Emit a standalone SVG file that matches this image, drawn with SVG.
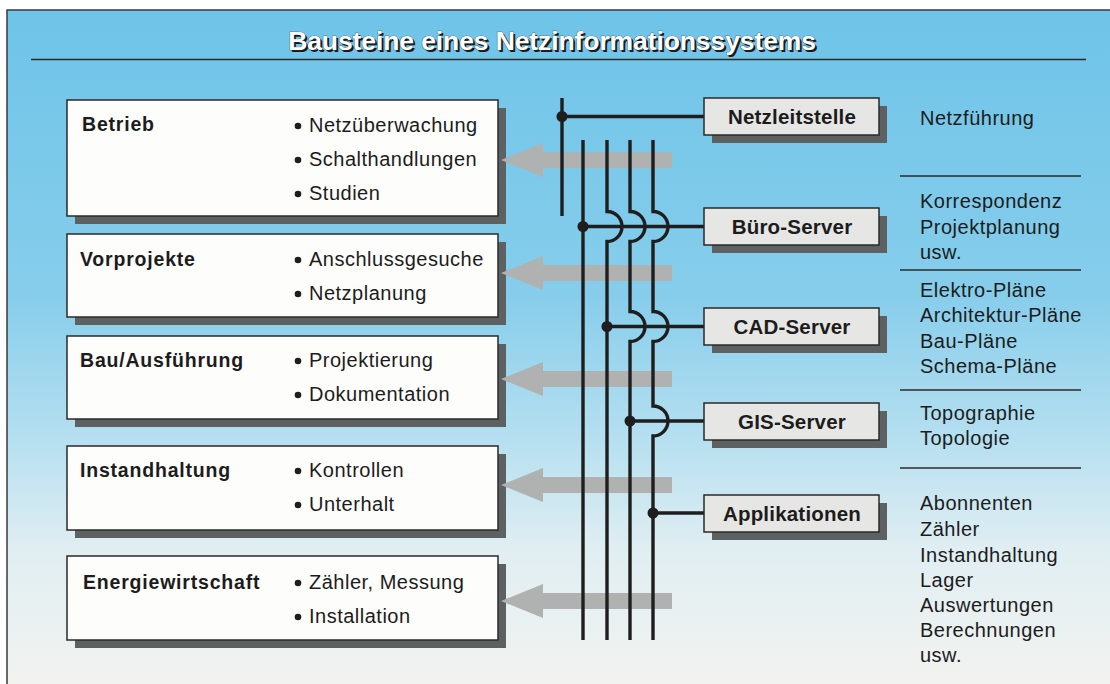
<svg xmlns="http://www.w3.org/2000/svg" width="1110" height="684" viewBox="0 0 1110 684">
<defs>
<linearGradient id="bg" x1="0" y1="10" x2="0" y2="684" gradientUnits="userSpaceOnUse">
<stop offset="0" stop-color="#6ec4e8"/>
<stop offset="0.42" stop-color="#86cdeb"/>
<stop offset="0.64" stop-color="#b6e0f0"/>
<stop offset="0.8" stop-color="#e0eef2"/>
<stop offset="1" stop-color="#f2f3f0"/>
</linearGradient>
<style>
.shadow{fill:#5e6162}
.box{fill:#fdfdfb;stroke:#2a2a2a;stroke-width:1.5}
.sbox{fill:#e6e6e4;stroke:#2a2a2a;stroke-width:1.5}
.t{font-family:"Liberation Sans",Arial,sans-serif;fill:#1c1c1c}
.ttl{font-size:26.5px;font-weight:bold;letter-spacing:-0.1px;text-anchor:middle}
.head{font-size:19.5px;font-weight:bold;letter-spacing:0.8px}
.item{font-size:20px;letter-spacing:0.5px}
.srv{font-size:20.5px;font-weight:bold;letter-spacing:0.2px;text-anchor:middle}
.side{font-size:20px;letter-spacing:0.5px}
.bus{fill:none;stroke:#1e1e1e;stroke-width:3.4}
.dot{fill:#1e1e1e}
.arrow{fill:#b0b1b1}
.sep{stroke:#2a2a2a;stroke-width:1.3}
</style>
</defs>
<rect x="0" y="0" width="1110" height="684" fill="#ffffff"/>
<rect x="7" y="10" width="1110" height="690" fill="url(#bg)" stroke="#3a3a3a" stroke-width="1.5"/>

<g id="title">
<text class="t ttl" x="554" y="52" style="fill:#1a1a1a">Bausteine eines Netzinformationssystems</text>
<text class="t ttl" x="552" y="50" style="fill:#ffffff;stroke:#333;stroke-width:0.6px;paint-order:stroke">Bausteine eines Netzinformationssystems</text>
<line x1="31" y1="59.5" x2="1086" y2="59.5" stroke="#2a2a2a" stroke-width="1.5"/>
</g>

<g id="box-betrieb">
<rect class="shadow" x="75" y="108" width="431" height="116"/>
<rect class="box" x="67" y="100" width="431" height="116"/>
<text class="t head" x="82" y="131">Betrieb</text>
<circle class="dot" cx="298" cy="126" r="3.3"/><text class="t item" x="309" y="132">Netzüberwachung</text>
<circle class="dot" cx="298" cy="160" r="3.3"/><text class="t item" x="309" y="166">Schalthandlungen</text>
<circle class="dot" cx="298" cy="194" r="3.3"/><text class="t item" x="309" y="200">Studien</text>
</g>

<g id="box-vorprojekte">
<rect class="shadow" x="75" y="242" width="431" height="83"/>
<rect class="box" x="67" y="234" width="431" height="83"/>
<text class="t head" x="80" y="266">Vorprojekte</text>
<circle class="dot" cx="298" cy="260" r="3.3"/><text class="t item" x="309" y="266">Anschlussgesuche</text>
<circle class="dot" cx="298" cy="294" r="3.3"/><text class="t item" x="309" y="300">Netzplanung</text>
</g>

<g id="box-bau">
<rect class="shadow" x="75" y="344" width="431" height="83"/>
<rect class="box" x="67" y="336" width="431" height="83"/>
<text class="t head" x="80" y="367">Bau/Ausführung</text>
<circle class="dot" cx="298" cy="361" r="3.3"/><text class="t item" x="309" y="367">Projektierung</text>
<circle class="dot" cx="298" cy="395" r="3.3"/><text class="t item" x="309" y="401">Dokumentation</text>
</g>

<g id="box-instandhaltung">
<rect class="shadow" x="75" y="454" width="431" height="84"/>
<rect class="box" x="67" y="446" width="431" height="84"/>
<text class="t head" x="80" y="477">Instandhaltung</text>
<circle class="dot" cx="298" cy="471" r="3.3"/><text class="t item" x="309" y="477">Kontrollen</text>
<circle class="dot" cx="298" cy="505" r="3.3"/><text class="t item" x="309" y="511">Unterhalt</text>
</g>

<g id="box-energie">
<rect class="shadow" x="75" y="564" width="431" height="84"/>
<rect class="box" x="67" y="556" width="431" height="84"/>
<text class="t head" x="83" y="589">Energiewirtschaft</text>
<circle class="dot" cx="298" cy="583" r="3.3"/><text class="t item" x="309" y="589">Zähler, Messung</text>
<circle class="dot" cx="298" cy="617" r="3.3"/><text class="t item" x="309" y="623">Installation</text>
</g>

<g id="arrows">
<polygon class="arrow" points="501,160 543,143 543,152 672,152 672,168 543,168 543,177"/>
<polygon class="arrow" points="501,273 543,256 543,265 672,265 672,281 543,281 543,290"/>
<polygon class="arrow" points="501,379 543,362 543,371 672,371 672,387 543,387 543,396"/>
<polygon class="arrow" points="501,485 543,468 543,477 672,477 672,493 543,493 543,502"/>
<polygon class="arrow" points="501,601 543,584 543,593 672,593 672,609 543,609 543,618"/>
</g>

<g id="connectors">
<path class="bus" d="M562,98 V216"/>
<path class="bus" d="M562,116.5 H705"/>
<circle class="dot" cx="562" cy="116.5" r="5.5"/>
<path class="bus" d="M583,140 V640"/>
<path class="bus" d="M583,226.5 H705"/>
<circle class="dot" cx="583" cy="226.5" r="5.5"/>
<path class="bus" d="M607,140 V211.5 A15,15 0 0 1 607,241.5 V640"/>
<path class="bus" d="M607,326.5 H705"/>
<circle class="dot" cx="607" cy="326.5" r="5.5"/>
<path class="bus" d="M630,140 V211.5 A15,15 0 0 1 630,241.5 V311.5 A15,15 0 0 1 630,341.5 V640"/>
<path class="bus" d="M630,421 H705"/>
<circle class="dot" cx="630" cy="421" r="5.5"/>
<path class="bus" d="M653,140 V211.5 A15,15 0 0 1 653,241.5 V311.5 A15,15 0 0 1 653,341.5 V406 A15,15 0 0 1 653,436 V640"/>
<path class="bus" d="M653,513 H705"/>
<circle class="dot" cx="653" cy="513" r="5.5"/>
</g>

<g id="srv-netzleitstelle">
<rect class="shadow" x="712" y="106" width="175" height="37"/>
<rect class="sbox" x="704" y="98" width="175" height="37"/>
<text class="t srv" x="792" y="124">Netzleitstelle</text>
</g>
<g id="srv-buero">
<rect class="shadow" x="712" y="216" width="175" height="37"/>
<rect class="sbox" x="704" y="208" width="175" height="37"/>
<text class="t srv" x="792" y="234">Büro-Server</text>
</g>
<g id="srv-cad">
<rect class="shadow" x="712" y="316" width="175" height="37"/>
<rect class="sbox" x="704" y="308" width="175" height="37"/>
<text class="t srv" x="792" y="334">CAD-Server</text>
</g>
<g id="srv-gis">
<rect class="shadow" x="712" y="411" width="175" height="37"/>
<rect class="sbox" x="704" y="403" width="175" height="37"/>
<text class="t srv" x="792" y="429">GIS-Server</text>
</g>
<g id="srv-applikationen">
<rect class="shadow" x="712" y="503" width="175" height="37"/>
<rect class="sbox" x="704" y="495" width="175" height="37"/>
<text class="t srv" x="792" y="521">Applikationen</text>
</g>

<g id="side-notes">
<line class="sep" x1="900" y1="176" x2="1081" y2="176"/>
<line class="sep" x1="900" y1="270" x2="1081" y2="270"/>
<line class="sep" x1="900" y1="390" x2="1081" y2="390"/>
<line class="sep" x1="900" y1="468" x2="1081" y2="468"/>
<text class="t side" x="920" y="125">Netzführung</text>
<text class="t side" x="920" y="208">Korrespondenz</text>
<text class="t side" x="920" y="234">Projektplanung</text>
<text class="t side" x="920" y="259">usw.</text>
<text class="t side" x="920" y="297">Elektro-Pläne</text>
<text class="t side" x="920" y="322">Architektur-Pläne</text>
<text class="t side" x="920" y="348">Bau-Pläne</text>
<text class="t side" x="920" y="373">Schema-Pläne</text>
<text class="t side" x="920" y="420">Topographie</text>
<text class="t side" x="920" y="445">Topologie</text>
<text class="t side" x="920" y="510">Abonnenten</text>
<text class="t side" x="920" y="536">Zähler</text>
<text class="t side" x="920" y="562">Instandhaltung</text>
<text class="t side" x="920" y="587">Lager</text>
<text class="t side" x="920" y="612">Auswertungen</text>
<text class="t side" x="920" y="637">Berechnungen</text>
<text class="t side" x="920" y="662">usw.</text>
</g>
</svg>
